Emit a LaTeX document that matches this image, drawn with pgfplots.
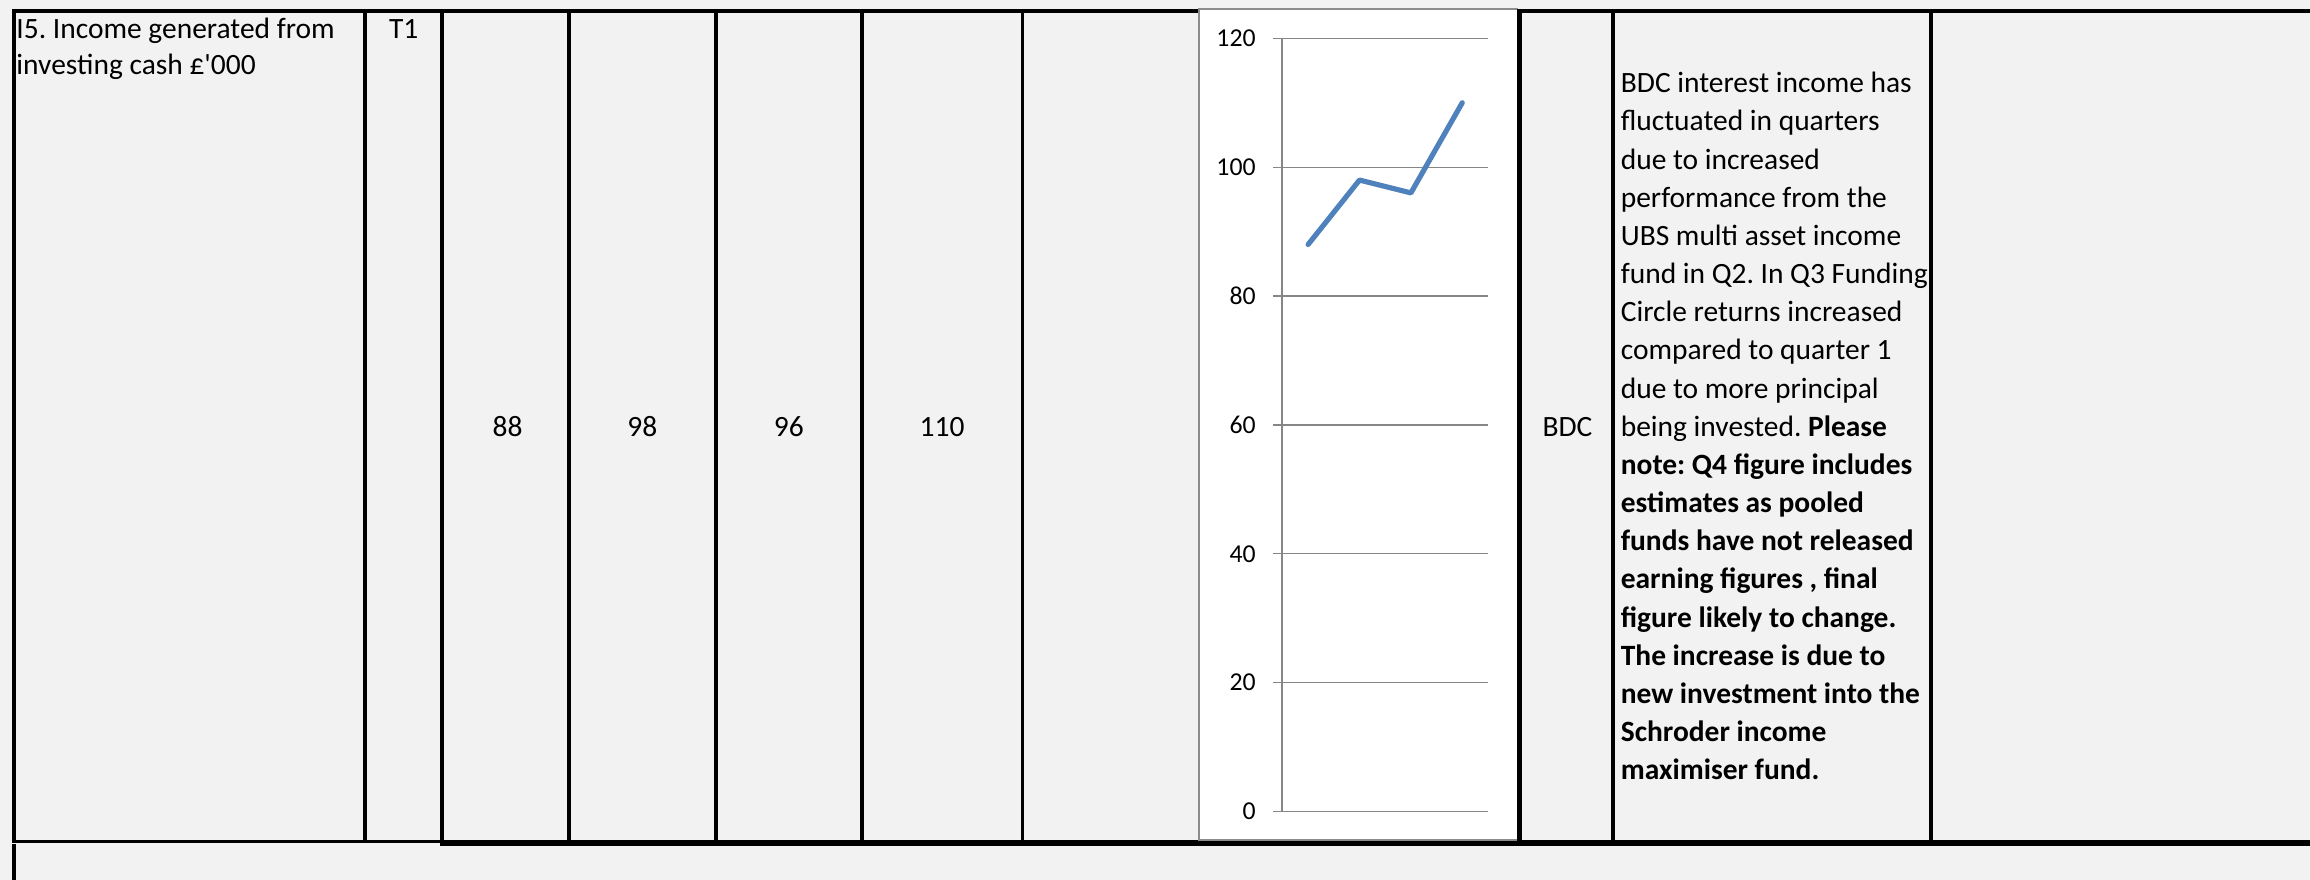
\documentclass[border=0pt]{standalone}
\usepackage{fontspec}
\setmainfont{Carlito}
\usepackage{pgfplots}
\pgfplotsset{compat=1.18}
\definecolor{bg}{HTML}{F2F2F2}
\definecolor{gridc}{HTML}{868686}
\definecolor{serc}{HTML}{4F81BD}
\definecolor{framec}{HTML}{8C8C8C}
\frenchspacing
\begin{document}
\begin{tikzpicture}[x=1pt,y=1pt]
\begin{scope}[y=-1pt,every node/.style={font=\fontsize{20}{24}\selectfont, inner sep=0pt}]
\useasboundingbox (0,0) rectangle (1568,597);
\fill[bg] (0,0) rectangle (1568,597);
% table borders
\draw[line width=3pt] (8,7.5) -- (1568,7.5);
\draw[line width=3pt] (9.5,6) -- (9.5,572);
\foreach \xx in {248,300,386,486,585,694,1095,1311}
  \draw[line width=2.6pt] (\xx,6) -- (\xx,572);
\draw[line width=2pt] (8,571) -- (300,571);
\draw[line width=4pt] (299,572.5) -- (1568,572.5);
\draw[line width=3pt] (9.5,573) -- (9.5,597);
% chart box
\filldraw[fill=white, draw=framec, line width=1.2pt] (814,6) rectangle (1030,570.2);
\draw[line width=3pt] (1031.5,6) -- (1031.5,574);
% texts
\node[anchor=base west] at (11,26) {I5. Income generated from};
\node[anchor=base west] at (11,50.5) {investing cash £\textquotesingle 000};
\node[anchor=base] at (274,26) {T1};
\node[anchor=base] at (344.5,296.4) {88};
\node[anchor=base] at (436,296.4) {98};
\node[anchor=base] at (535.5,296.4) {96};
\node[anchor=base] at (639.5,296.4) {110};
\node[anchor=base] at (1064,296.4) {BDC};
\node[anchor=base west] at (1100,63.0) {BDC interest income has};
\node[anchor=base west] at (1100,88.9) {fluctuated in quarters};
\node[anchor=base west] at (1100,114.8) {due to increased};
\node[anchor=base west] at (1100,140.7) {performance from the};
\node[anchor=base west] at (1100,166.6) {UBS multi asset income};
\node[anchor=base west] at (1100,192.5) {fund in Q2. In Q3 Funding};
\node[anchor=base west] at (1100,218.4) {Circle returns increased};
\node[anchor=base west] at (1100,244.3) {compared to quarter 1};
\node[anchor=base west] at (1100,270.2) {due to more principal};
\node[anchor=base west] at (1100,296.1) {being invested. \textbf{Please}};
\node[anchor=base west] at (1100,322.0) {\textbf{note: Q4 figure includes}};
\node[anchor=base west] at (1100,347.9) {\textbf{estimates as pooled}};
\node[anchor=base west] at (1100,373.8) {\textbf{funds have not released}};
\node[anchor=base west] at (1100,399.7) {\textbf{earning figures , final}};
\node[anchor=base west] at (1100,425.6) {\textbf{figure likely to change.}};
\node[anchor=base west] at (1100,451.5) {\textbf{The increase is due to}};
\node[anchor=base west] at (1100,477.4) {\textbf{new investment into the}};
\node[anchor=base west] at (1100,503.3) {\textbf{Schroder income}};
\node[anchor=base west] at (1100,529.2) {\textbf{maximiser fund.}};
\end{scope}
% chart
\begin{axis}[
  at={(870.5pt,-550.8pt)}, anchor=south west,
  width=139.5pt, height=524.8pt, scale only axis,
  xmin=0.5, xmax=4.5, ymin=0, ymax=120,
  ytick={0,20,...,120},
  axis x line=none, axis y line=left,
  y axis line style={-, draw=gridc, line width=1.3pt},
  ymajorgrids, grid style={draw=gridc, line width=0.9pt},
  tick align=outside, major tick length=6.5pt,
  ytick style={draw=gridc, line width=0.9pt},
  /pgf/number format/assume math mode=true,
  yticklabel style={font=\fontsize{17.5}{18}\selectfont, text=black, inner sep=0pt, anchor=east, xshift=-11.5pt},
  clip=false,
]
\addplot[serc, line width=3.5pt, line cap=round, line join=round] coordinates {(1,88) (2,98) (3,96) (4,110)};
\end{axis}
\end{tikzpicture}
\end{document}
